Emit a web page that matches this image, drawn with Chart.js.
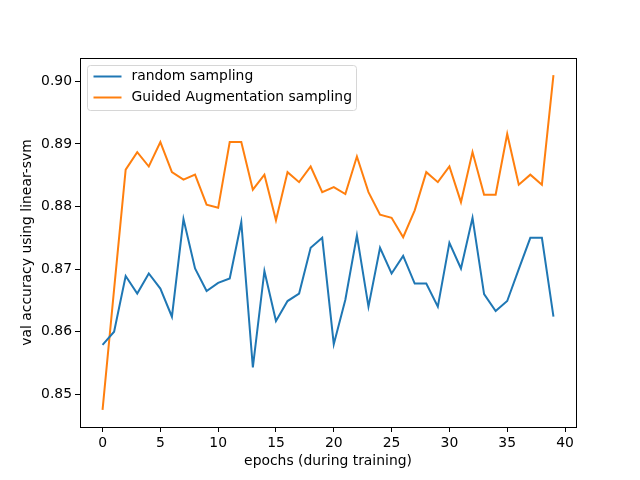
<!DOCTYPE html>
<html>
<head>
<meta charset="utf-8">
<script src="https://cdn.jsdelivr.net/npm/chart.js@4/dist/chart.umd.min.js"></script>
<style>
  html, body { margin: 0; padding: 0; background: #fff; }
  #wrap { width: 640px; height: 480px; }
</style>
</head>
<body>
<div id="wrap"><canvas id="c" width="640" height="480"></canvas></div>
<script>
// values
const epochs = [0,1,2,3,4,5,6,7,8,9,10,11,12,13,14,15,16,17,18,19,
                20,21,22,23,24,25,26,27,28,29,30,31,32,33,34,35,36,37,38,39];
const randomSampling = [
  0.8579, 0.8600, 0.8689, 0.8661, 0.8693, 0.8669, 0.8624, 0.8780, 0.8701, 0.8665,
  0.8678, 0.8685, 0.8775, 0.8543, 0.8697, 0.8617, 0.8649, 0.8661, 0.8734, 0.8750,
  0.8580, 0.8651, 0.8754, 0.8640, 0.8734, 0.8693, 0.8721, 0.8677, 0.8677, 0.8640,
  0.8742, 0.8701, 0.8782, 0.8660, 0.8633, 0.8649, 0.8700, 0.8750, 0.8750, 0.8624
];
const guidedSampling = [
  0.8475, 0.8668, 0.8859, 0.8887, 0.8864, 0.8903, 0.8855, 0.8843, 0.8851, 0.8803,
  0.8798, 0.8903, 0.8903, 0.8827, 0.8851, 0.8778, 0.8855, 0.8839, 0.8864, 0.8823,
  0.8831, 0.8820, 0.8880, 0.8823, 0.8787, 0.8782, 0.8751, 0.8794, 0.8855, 0.8839,
  0.8864, 0.8807, 0.8887, 0.8819, 0.8819, 0.8916, 0.8835, 0.8851, 0.8835, 0.9010
];
const xTicks = [0, 5, 10, 15, 20, 25, 30, 35, 40];
const yTicks = [0.85, 0.86, 0.87, 0.88, 0.89, 0.90];

const font = { family: 'DejaVu Sans', size: 13.9 };

// frame round the plot (matplotlib draws all four spines)
const frame = {
  id: 'frame',
  afterDatasetsDraw(chart) {
    const a = chart.chartArea, ctx = chart.ctx;
    ctx.save();
    ctx.strokeStyle = '#000';
    ctx.lineWidth = 1;
    ctx.strokeRect(Math.round(a.left) + 0.5, Math.round(a.top) + 0.5,
                   Math.round(a.right - a.left), Math.round(a.bottom - a.top));
    ctx.restore();
  }
};

// legend inside the axes, upper left
const innerLegend = {
  id: 'innerLegend',
  afterDraw(chart) {
    const ctx = chart.ctx, a = chart.chartArea;
    const x0 = a.left + 7.5, y0 = a.top + 7.5;
    const rowH = 21, w = 269, h = 45;
    ctx.save();
    ctx.font = font.size + 'px ' + font.family;
    ctx.beginPath();
    ctx.roundRect(x0, y0, w, h, 3);
    ctx.fillStyle = 'rgba(255,255,255,0.8)';
    ctx.fill();
    ctx.strokeStyle = '#d6d6d6';
    ctx.lineWidth = 1;
    ctx.stroke();
    chart.data.datasets.forEach((ds, i) => {
      const y = y0 + 11 + i * rowH;
      ctx.beginPath();
      ctx.moveTo(x0 + 6, y);
      ctx.lineTo(x0 + 34, y);
      ctx.strokeStyle = ds.borderColor;
      ctx.lineWidth = ds.borderWidth;
      ctx.stroke();
      ctx.fillStyle = '#000';
      ctx.textBaseline = 'middle';
      ctx.fillText(ds.label, x0 + 44, y);
    });
    ctx.restore();
  }
};

new Chart(document.getElementById('c'), {
  type: 'line',
  data: {
    datasets: [
      {
        label: 'random sampling',
        data: epochs.map((e, i) => ({ x: e, y: randomSampling[i] })),
        borderColor: '#1f77b4',
        borderWidth: 2,
        pointRadius: 0,
        tension: 0
      },
      {
        label: 'Guided Augmentation sampling',
        data: epochs.map((e, i) => ({ x: e, y: guidedSampling[i] })),
        borderColor: '#ff7f0e',
        borderWidth: 2,
        pointRadius: 0,
        tension: 0
      }
    ]
  },
  options: {
    responsive: false,
    devicePixelRatio: 1,
    animation: false,
    layout: { padding: { top: 58, right: 64, left: 0, bottom: 0 } },
    plugins: { legend: { display: false }, tooltip: { enabled: false } },
    scales: {
      x: {
        type: 'linear',
        min: -1.95,
        max: 40.95,
        afterBuildTicks: (axis) => { axis.ticks = xTicks.map(v => ({ value: v })); },
        afterFit: (axis) => { axis.height = 53; },
        grid: { drawOnChartArea: false, tickLength: 5, color: '#000', tickWidth: 1 },
        border: { color: '#000' },
        ticks: { color: '#000', font: font, padding: 3, maxRotation: 0, callback: v => String(v) },
        title: { display: true, text: 'epochs (during training)', color: '#000', font: font, padding: { top: 0, bottom: 10 } }
      },
      y: {
        min: 0.84477,
        max: 0.90374,
        afterBuildTicks: (axis) => { axis.ticks = yTicks.map(v => ({ value: v })); },
        afterFit: (axis) => { axis.width = 80; },
        grid: { drawOnChartArea: false, tickLength: 5, color: '#000', tickWidth: 1 },
        border: { color: '#000' },
        ticks: { color: '#000', font: font, padding: 3, callback: v => v.toFixed(2) },
        title: { display: true, text: 'val accuracy using linear-svm', color: '#000', font: font, padding: { top: 19, bottom: 0 } }
      }
    }
  },
  plugins: [frame, innerLegend]
});
</script>
</body>
</html>
